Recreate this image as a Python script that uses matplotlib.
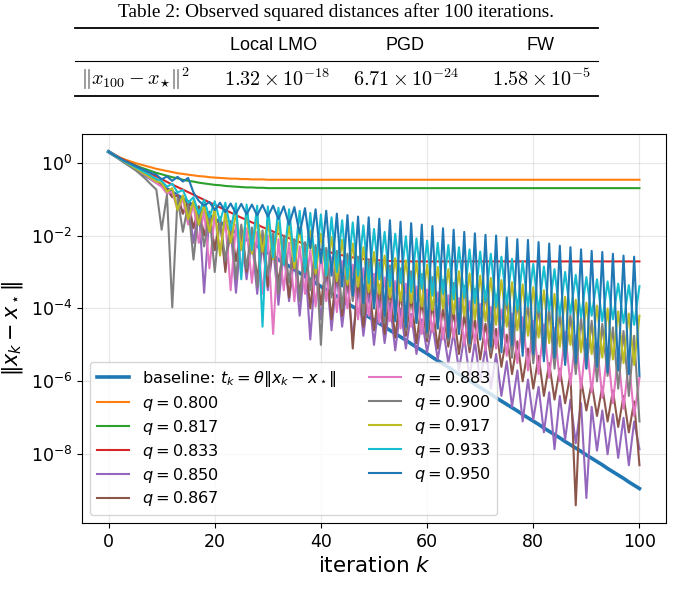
import numpy as np
import matplotlib
matplotlib.use("Agg")
import matplotlib.pyplot as plt
from matplotlib.lines import Line2D

# ---- table above the chart ----
table_caption = "Table 2: Observed squared distances after 100 iterations."
table_headers = ["Local LMO", "PGD", "FW"]
table_row_label = r"$\|x_{100} - x_{\star}\|^2$"
table_values = [r"$1.32 \times 10^{-18}$", r"$6.71 \times 10^{-24}$", r"$1.58 \times 10^{-5}$"]

# ---- chart data: log10 of ||x_k - x*|| per iteration ----
iterations = list(range(101))
q_values = [0.800, 0.817, 0.833, 0.850, 0.867, 0.883, 0.900, 0.917, 0.933, 0.950]

log_baseline = [
    0.30, 0.21, 0.12, 0.02, -0.07, -0.16, -0.25, -0.35, -0.44, -0.53,
    -0.62, -0.72, -0.81, -0.90, -0.99, -1.09, -1.18, -1.27, -1.36, -1.46,
    -1.55, -1.64, -1.73, -1.83, -1.92, -2.01, -2.10, -2.19, -2.29, -2.38,
    -2.47, -2.56, -2.66, -2.75, -2.84, -2.93, -3.03, -3.12, -3.21, -3.30,
    -3.40, -3.49, -3.58, -3.67, -3.77, -3.86, -3.95, -4.04, -4.14, -4.23,
    -4.32, -4.41, -4.50, -4.60, -4.69, -4.78, -4.87, -4.97, -5.06, -5.15,
    -5.24, -5.34, -5.43, -5.52, -5.61, -5.71, -5.80, -5.89, -5.98, -6.08,
    -6.17, -6.26, -6.35, -6.45, -6.54, -6.63, -6.72, -6.81, -6.91, -7.00,
    -7.09, -7.18, -7.28, -7.37, -7.46, -7.55, -7.65, -7.74, -7.83, -7.92,
    -8.02, -8.11, -8.20, -8.29, -8.39, -8.48, -8.57, -8.66, -8.76, -8.85,
    -8.94,
]

log_q800 = [
    0.30, 0.22, 0.15, 0.09, 0.04, -0.01, -0.05, -0.09, -0.13, -0.17,
    -0.20, -0.23, -0.26, -0.29, -0.31, -0.33, -0.35, -0.37, -0.38, -0.40,
    -0.41, -0.42, -0.43, -0.44, -0.44, -0.45, -0.45, -0.46, -0.46, -0.46,
    -0.47, -0.47, -0.47, -0.47, -0.47, -0.47, -0.47, -0.47, -0.47, -0.47,
    -0.47, -0.47, -0.47, -0.47, -0.47, -0.47, -0.47, -0.47, -0.47, -0.47,
    -0.47, -0.47, -0.47, -0.47, -0.47, -0.47, -0.47, -0.47, -0.47, -0.47,
    -0.47, -0.47, -0.47, -0.47, -0.47, -0.47, -0.47, -0.47, -0.47, -0.47,
    -0.47, -0.47, -0.47, -0.47, -0.47, -0.47, -0.47, -0.47, -0.47, -0.47,
    -0.47, -0.47, -0.47, -0.47, -0.47, -0.47, -0.47, -0.47, -0.47, -0.47,
    -0.47, -0.47, -0.47, -0.47, -0.47, -0.47, -0.47, -0.47, -0.47, -0.47,
    -0.47,
]

log_q817 = [
    0.30, 0.21, 0.13, 0.06, -0.01, -0.07, -0.13, -0.18, -0.23, -0.28,
    -0.32, -0.36, -0.40, -0.43, -0.47, -0.50, -0.52, -0.55, -0.57, -0.59,
    -0.61, -0.62, -0.64, -0.65, -0.66, -0.67, -0.68, -0.68, -0.69, -0.69,
    -0.70, -0.70, -0.70, -0.70, -0.70, -0.70, -0.70, -0.70, -0.70, -0.70,
    -0.70, -0.70, -0.70, -0.70, -0.70, -0.70, -0.70, -0.70, -0.70, -0.70,
    -0.70, -0.70, -0.70, -0.70, -0.70, -0.70, -0.70, -0.70, -0.70, -0.70,
    -0.70, -0.70, -0.70, -0.70, -0.70, -0.70, -0.70, -0.70, -0.70, -0.70,
    -0.70, -0.70, -0.70, -0.70, -0.70, -0.70, -0.70, -0.70, -0.70, -0.70,
    -0.70, -0.70, -0.70, -0.70, -0.70, -0.70, -0.70, -0.70, -0.70, -0.70,
    -0.70, -0.70, -0.70, -0.70, -0.70, -0.70, -0.70, -0.70, -0.70, -0.70,
    -0.70,
]

log_q833 = [
    0.30, 0.22, 0.14, 0.07, -0.01, -0.08, -0.16, -0.23, -0.31, -0.38,
    -0.45, -0.53, -0.60, -0.67, -0.74, -0.81, -0.88, -0.95, -1.02, -1.09,
    -1.16, -1.23, -1.30, -1.37, -1.44, -1.51, -1.57, -1.64, -1.70, -1.77,
    -1.83, -1.89, -1.95, -2.01, -2.07, -2.13, -2.18, -2.24, -2.29, -2.34,
    -2.39, -2.43, -2.47, -2.51, -2.54, -2.57, -2.60, -2.62, -2.64, -2.66,
    -2.67, -2.68, -2.69, -2.70, -2.70, -2.71, -2.71, -2.71, -2.71, -2.71,
    -2.71, -2.71, -2.71, -2.71, -2.71, -2.71, -2.71, -2.71, -2.71, -2.71,
    -2.71, -2.71, -2.71, -2.71, -2.71, -2.71, -2.71, -2.71, -2.71, -2.71,
    -2.71, -2.71, -2.71, -2.71, -2.71, -2.71, -2.71, -2.71, -2.71, -2.71,
    -2.71, -2.71, -2.71, -2.71, -2.71, -2.71, -2.71, -2.71, -2.71, -2.71,
    -2.71,
]

log_q850 = [
    0.30, 0.21, 0.12, 0.03, -0.06, -0.15, -0.24, -0.33, -0.42, -0.51,
    -0.62, -0.72, -0.90, -0.88, -1.40, -1.05, -2.20, -1.20, -3.57, -1.40,
    -2.40, -1.60, -2.90, -1.80, -3.57, -1.95, -3.20, -2.08, -3.60, -2.20,
    -3.50, -2.32, -3.90, -2.44, -3.80, -2.56, -4.20, -2.68, -4.85, -2.80,
    -4.30, -2.95, -4.60, -3.10, -4.50, -3.25, -4.85, -3.40, -4.75, -3.55,
    -5.00, -3.70, -4.95, -3.85, -5.15, -4.00, -5.10, -4.15, -5.25, -4.30,
    -5.20, -4.42, -5.40, -4.54, -5.50, -4.66, -5.70, -4.78, -5.90, -4.90,
    -6.00, -5.05, -6.20, -5.25, -6.40, -5.45, -6.70, -5.70, -7.10, -5.95,
    -7.05, -6.15, -7.40, -6.30, -7.86, -6.40, -7.60, -6.50, -7.70, -6.60,
    -9.20, -6.70, -7.90, -6.80, -8.00, -6.90, -8.10, -7.00, -8.30, -7.10,
    -7.86,
]

log_q867 = [
    0.30, 0.21, 0.12, 0.03, -0.06, -0.15, -0.24, -0.34, -0.44, -0.54,
    -0.64, -0.74, -0.95, -0.90, -1.40, -1.05, -1.80, -1.20, -2.00, -1.35,
    -2.40, -1.50, -3.00, -1.65, -2.70, -1.80, -3.00, -1.92, -3.20, -2.04,
    -3.40, -2.16, -3.30, -2.28, -3.70, -2.40, -3.60, -2.52, -4.00, -2.64,
    -3.90, -2.76, -4.30, -2.88, -4.20, -3.00, -5.10, -3.12, -4.50, -3.24,
    -4.60, -3.36, -4.70, -3.48, -4.80, -3.58, -4.75, -3.68, -4.95, -3.78,
    -4.90, -3.88, -5.10, -3.98, -5.05, -4.08, -5.25, -4.18, -5.20, -4.30,
    -5.40, -4.42, -5.35, -4.56, -5.60, -4.72, -5.80, -4.90, -6.00, -5.10,
    -6.20, -5.30, -6.40, -5.50, -6.50, -5.65, -6.60, -5.80, -9.40, -5.95,
    -6.80, -6.05, -6.95, -6.15, -7.10, -6.25, -7.25, -6.40, -7.40, -6.55,
    -8.30,
]

log_q883 = [
    0.30, 0.21, 0.12, 0.03, -0.06, -0.15, -0.25, -0.35, -0.46, -0.56,
    -0.66, -0.85, -0.80, -1.30, -1.00, -1.70, -1.15, -2.20, -1.30, -2.90,
    -1.45, -2.40, -1.60, -3.50, -1.70, -3.00, -1.80, -3.30, -1.90, -3.60,
    -2.00, -4.70, -2.10, -3.50, -2.20, -3.80, -2.30, -3.60, -2.40, -3.95,
    -2.50, -3.80, -2.60, -4.10, -2.70, -4.00, -2.80, -4.30, -2.90, -4.20,
    -3.05, -4.40, -3.15, -4.35, -3.25, -4.55, -3.32, -4.50, -3.40, -4.70,
    -3.48, -4.65, -3.56, -4.85, -3.64, -4.80, -3.72, -5.00, -3.80, -4.95,
    -3.88, -5.15, -3.96, -5.10, -4.04, -5.30, -4.14, -5.50, -4.24, -5.70,
    -4.34, -5.80, -4.44, -5.90, -4.54, -6.00, -4.64, -6.10, -4.74, -6.20,
    -4.84, -6.30, -4.96, -6.45, -5.10, -6.60, -5.25, -6.75, -5.45, -6.95,
    -5.90,
]

log_q900 = [
    0.30, 0.20, 0.10, 0.00, -0.10, -0.20, -0.32, -0.45, -0.60, -0.74,
    -1.84, -0.88, -3.97, -0.96, -1.90, -1.15, -2.66, -1.30, -2.30, -1.40,
    -3.00, -1.50, -2.70, -1.60, -3.20, -1.70, -2.90, -1.78, -3.40, -1.86,
    -3.10, -1.94, -3.60, -2.02, -3.30, -2.10, -3.80, -2.18, -3.50, -2.26,
    -5.00, -2.34, -3.70, -2.42, -4.00, -2.50, -3.80, -2.58, -4.20, -2.66,
    -4.00, -2.74, -4.40, -2.82, -4.20, -2.90, -4.60, -2.98, -4.40, -3.06,
    -4.80, -3.14, -4.55, -3.22, -4.90, -3.30, -4.70, -3.38, -5.05, -3.46,
    -4.85, -3.54, -5.20, -3.62, -5.00, -3.70, -5.35, -3.78, -5.20, -3.86,
    -5.50, -3.94, -5.35, -4.02, -5.65, -4.10, -5.50, -4.18, -5.80, -4.26,
    -5.65, -4.34, -6.00, -4.42, -5.85, -4.52, -6.20, -4.62, -6.40, -4.75,
    -7.10,
]

log_q917 = [
    0.30, 0.21, 0.12, 0.03, -0.06, -0.15, -0.24, -0.33, -0.42, -0.52,
    -0.55, -0.80, -0.70, -1.30, -0.90, -1.55, -1.05, -1.70, -1.15, -1.90,
    -1.25, -2.55, -1.35, -2.20, -1.40, -2.40, -1.45, -2.50, -1.50, -2.45,
    -1.58, -2.65, -1.64, -2.75, -1.70, -2.90, -1.78, -2.85, -1.86, -3.05,
    -1.95, -3.10, -2.04, -3.25, -2.12, -3.35, -2.22, -3.40, -2.32, -3.55,
    -2.45, -3.60, -2.55, -3.70, -2.62, -3.80, -2.68, -3.85, -2.74, -3.95,
    -2.80, -4.05, -2.86, -4.00, -2.92, -4.15, -2.98, -4.20, -3.04, -4.30,
    -3.10, -4.35, -3.16, -4.45, -3.22, -4.50, -3.28, -4.60, -3.34, -4.75,
    -3.42, -4.80, -3.50, -4.95, -3.60, -5.05, -3.68, -5.00, -3.76, -5.20,
    -3.84, -5.25, -3.92, -5.35, -4.00, -5.40, -4.08, -5.50, -4.14, -5.55,
    -4.20,
]

log_q933 = [
    0.30, 0.21, 0.12, 0.04, -0.04, -0.12, -0.20, -0.28, -0.36, -0.45,
    -0.50, -0.66, -0.58, -0.82, -0.75, -1.10, -0.95, -1.40, -1.02, -1.50,
    -1.06, -1.62, -1.10, -1.85, -1.12, -3.20, -1.15, -2.40, -1.18, -4.50,
    -1.20, -2.60, -1.24, -2.80, -1.28, -2.70, -1.32, -3.00, -1.38, -2.90,
    -1.42, -3.10, -1.50, -3.00, -1.58, -3.20, -1.64, -3.10, -1.72, -3.30,
    -1.82, -3.20, -1.90, -3.40, -1.95, -3.30, -2.02, -3.55, -2.08, -3.45,
    -2.14, -3.65, -2.20, -3.60, -2.26, -3.75, -2.32, -3.70, -2.38, -3.85,
    -2.44, -3.80, -2.50, -3.95, -2.58, -3.90, -2.64, -4.05, -2.70, -3.95,
    -2.78, -4.10, -2.85, -4.05, -2.92, -4.20, -3.00, -4.15, -3.08, -4.25,
    -3.14, -4.20, -3.20, -4.35, -3.26, -4.30, -3.32, -4.40, -3.36, -4.45,
    -3.39,
]

log_q950 = [
    0.30, 0.21, 0.13, 0.05, -0.02, -0.09, -0.16, -0.22, -0.28, -0.33,
    -0.46, -0.38, -0.50, -0.39, -0.52, -0.42, -0.82, -1.05, -1.18, -1.08,
    -1.30, -1.10, -1.36, -1.12, -1.40, -1.13, -1.42, -1.15, -1.45, -1.16,
    -1.48, -1.18, -1.55, -1.20, -1.70, -1.22, -1.95, -1.25, -2.35, -1.28,
    -2.75, -1.32, -3.10, -1.40, -3.40, -1.44, -3.65, -1.48, -3.85, -1.50,
    -4.00, -1.54, -4.20, -1.58, -4.35, -1.62, -4.50, -1.66, -4.40, -1.70,
    -4.65, -1.74, -4.55, -1.80, -4.80, -1.84, -4.70, -1.90, -4.95, -1.94,
    -4.85, -1.98, -5.05, -2.00, -5.20, -2.05, -5.00, -2.10, -5.30, -2.12,
    -5.25, -2.18, -5.45, -2.22, -5.35, -2.28, -5.55, -2.32, -5.50, -2.38,
    -5.65, -2.42, -5.60, -2.45, -5.75, -2.50, -5.70, -2.55, -5.80, -2.58,
    -5.85,
]

q_series = [log_q800, log_q817, log_q833, log_q850, log_q867,
            log_q883, log_q900, log_q917, log_q933, log_q950]

W, H = 673, 596
fig = plt.figure(figsize=(W / 100, H / 100), dpi=100)


def fx(px):
    return px / W


def fy(py):
    return 1 - py / H


# table: caption, booktabs-like rules, header and one row
fig.text(fx(336), fy(12), table_caption, ha="center", va="center",
         family="Liberation Serif", fontsize=13.9)
for y, lw in [(28, 1.3), (61, 0.8), (96, 1.3)]:
    fig.add_artist(Line2D([fx(75), fx(598)], [fy(y), fy(y)], lw=lw, color="black",
                          transform=fig.transFigure))
col_x = [274, 405, 541]
for x, h in zip(col_x, table_headers):
    fig.text(fx(x), fy(45), h, ha="center", va="center",
             family="Liberation Sans", fontsize=13)
val_x = [277, 406, 541]
fig.text(fx(135), fy(79), table_row_label, ha="center", va="center",
         fontsize=14.5, math_fontfamily="cm")
for x, v in zip(val_x, table_values):
    fig.text(fx(x), fy(79), v, ha="center", va="center",
             fontsize=14.5, math_fontfamily="cm")

# chart
ax = fig.add_axes([fx(82), fy(523), fx(666) - fx(82), fy(134) - fy(523)])
k = np.array(iterations)
ax.semilogy(k, 10 ** np.array(log_baseline), color="C0", lw=2.6,
            label=r"baseline: $t_k = \theta\|x_k - x_\star\|$")
colors = ["C1", "C2", "C3", "C4", "C5", "C6", "C7", "C8", "C9", "C0"]
for q, vals, c in zip(q_values, q_series, colors):
    ax.semilogy(k, 10 ** np.array(vals), color=c, lw=1.5, label=rf"$q = {q:.3f}$")

ax.set_yticks([1e0, 1e-2, 1e-4, 1e-6, 1e-8])
ax.minorticks_off()
ax.tick_params(labelsize=12.5)
ax.set_xlabel(r"iteration $k$", fontsize=15.5)
ax.set_ylabel(r"$\|x_k - x_\star\|$", fontsize=15)
ax.grid(True, alpha=0.3)
ax.legend(loc="lower left", ncol=2, fontsize=11.6, labelspacing=0.31)

fig.savefig("out.png", dpi=100)
